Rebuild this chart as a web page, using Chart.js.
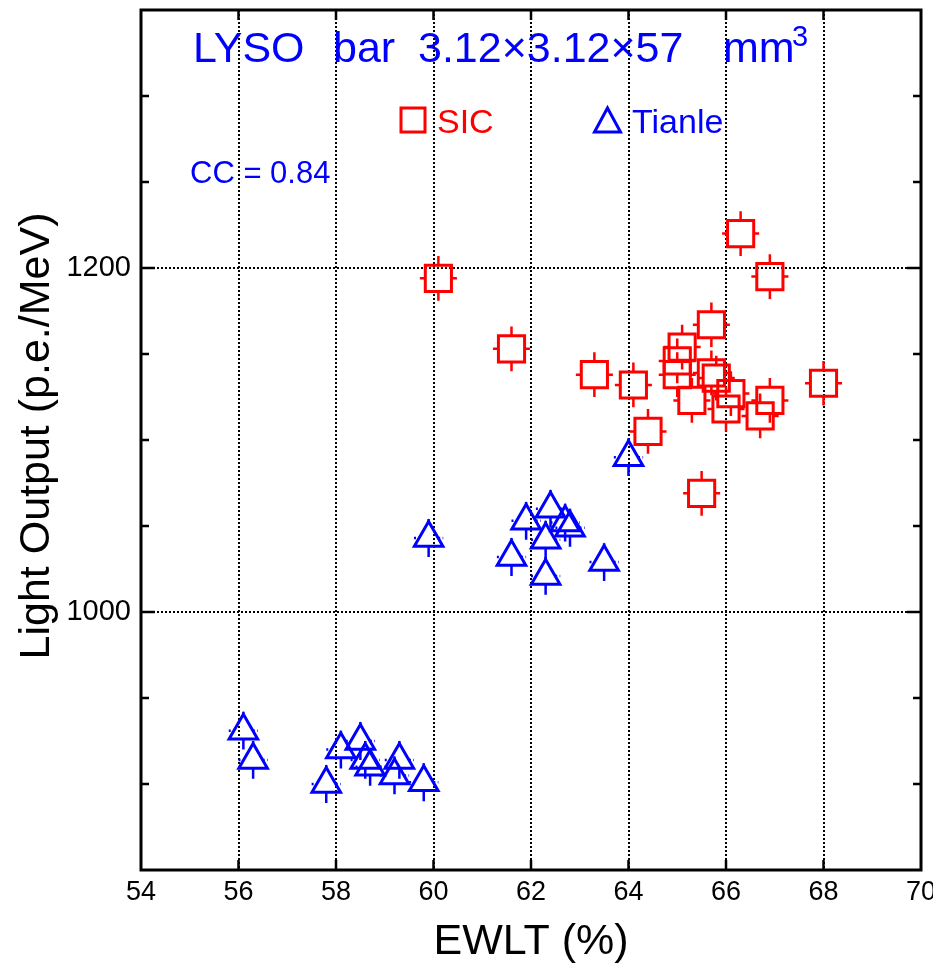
<!DOCTYPE html>
<html>
<head>
<meta charset="utf-8">
<script src="https://cdn.jsdelivr.net/npm/chart.js@4.4.1/dist/chart.umd.min.js"></script>
<style>
  html, body { margin: 0; padding: 0; background: #fff; }
</style>
</head>
<body>
<canvas id="lo-chart" width="933" height="963"></canvas>
<script>
// LYSO bars 3.12x3.12x57 mm3: light output vs EWLT, two vendors

const sicEwlt  = [60.1, 61.6, 63.3, 64.1, 64.4, 65.5, 66.3, 66.9, 65.7, 68.0,
                  65.1, 65.0, 65.0, 65.7, 65.8, 66.1, 65.3, 66.0, 66.9, 66.7];
const sicLight = [1194, 1153, 1138, 1132, 1105, 1069, 1220, 1195, 1167, 1133,
                  1154, 1146, 1138, 1139, 1136, 1127, 1123, 1118, 1123, 1114];

const tianleEwlt  = [59.9, 64.0, 61.9, 62.4, 62.7, 62.8, 62.3, 61.6, 62.3, 63.5,
                     56.1, 56.3, 57.8, 58.1, 58.5, 58.6, 58.7, 59.2, 59.3, 59.8];
const tianleLight = [1043, 1090, 1053, 1060, 1052, 1049, 1042, 1032, 1021, 1029,
                     931, 914, 900, 920, 925, 914, 910, 905, 914, 901];

// error bar half-widths (x in %, y in p.e./MeV)
const sicErr = [0.38, 13];
const tianleErr = [0.30, 11];

const yLabelTicks = [1000, 1200];

const RED = '#ff0000';
const BLUE = '#0000ff';
const FONT = "'Liberation Sans', Arial, Helvetica, sans-serif";

Chart.defaults.font.family = FONT;
Chart.defaults.color = '#000';

const toPoints = (xs, ys) => xs.map((x, i) => ({ x, y: ys[i] }));

// Error bars: only the parts sticking out of each marker are drawn
const errorBars = {
  id: 'errorBars',
  beforeDatasetsDraw(chart) {
    const { ctx, scales: { x: xs, y: ys } } = chart;
    chart.data.datasets.forEach((ds, i) => {
      const meta = chart.getDatasetMeta(i);
      const [ex, ey] = ds.err;
      const r = ds.pointRadius;
      ctx.save();
      ctx.strokeStyle = ds.borderColor;
      ctx.lineWidth = 2.5;
      meta.data.forEach((el, j) => {
        const d = ds.data[j];
        const px = el.x, py = el.y;
        const yTop = ys.getPixelForValue(d.y + ey);
        const yBot = ys.getPixelForValue(d.y - ey);
        const xL = xs.getPixelForValue(d.x - ex);
        const xR = xs.getPixelForValue(d.x + ex);
        let up, down, side;
        if (ds.pointStyle === 'rect') {
          up = down = side = Math.SQRT1_2 * r;
        } else {
          up = r; down = r / 2; side = r * Math.sqrt(3) / 3;
        }
        ctx.setLineDash([]);
        ctx.beginPath();
        ctx.moveTo(px, yTop); ctx.lineTo(px, py - up);
        ctx.moveTo(px, py + down); ctx.lineTo(px, yBot);
        ctx.stroke();
        if (ds.pointStyle !== 'rect') ctx.setLineDash([2, 2.5]);
        ctx.beginPath();
        ctx.moveTo(xL, py); ctx.lineTo(px - side, py);
        ctx.moveTo(px + side, py); ctx.lineTo(xR, py);
        ctx.stroke();
      });
      ctx.restore();
    });
  }
};

// Frame, inward ticks and all free text
const decorations = {
  id: 'decorations',
  afterDraw(chart) {
    const { ctx, chartArea: a, scales: { x: xs, y: ys } } = chart;
    ctx.save();

    // inward tick marks
    ctx.strokeStyle = '#000';
    ctx.lineWidth = 2.5;
    ctx.beginPath();
    ys.ticks.forEach(t => {
      if (t.value <= ys.min || t.value >= ys.max) return;
      const py = ys.getPixelForValue(t.value);
      const len = yLabelTicks.includes(t.value) ? 14 : 8;
      ctx.moveTo(a.left, py); ctx.lineTo(a.left + len, py);
      ctx.moveTo(a.right, py); ctx.lineTo(a.right - len, py);
    });
    xs.ticks.forEach(t => {
      if (t.value <= xs.min || t.value >= xs.max) return;
      const px = xs.getPixelForValue(t.value);
      ctx.moveTo(px, a.bottom); ctx.lineTo(px, a.bottom - 10);
      ctx.moveTo(px, a.top); ctx.lineTo(px, a.top + 10);
    });
    ctx.stroke();

    // frame
    ctx.lineWidth = 3;
    ctx.strokeRect(a.left, a.top, a.right - a.left, a.bottom - a.top);

    // axis titles
    ctx.fillStyle = '#000';
    ctx.font = `43px ${FONT}`;
    ctx.textAlign = 'center';
    ctx.textBaseline = 'alphabetic';
    ctx.fillText('EWLT (%)', (a.left + a.right) / 2, 954);
    ctx.save();
    ctx.translate(49, 436);
    ctx.rotate(-Math.PI / 2);
    ctx.fillText('Light Output (p.e./MeV)', 0, 0);
    ctx.restore();

    // heading
    ctx.textAlign = 'left';
    ctx.fillStyle = BLUE;
    ctx.font = `43px ${FONT}`;
    ctx.fillText('LYSO', 193, 62);
    ctx.fillText('bar', 333, 62);
    ctx.fillText('3.12\u00d73.12\u00d757', 418, 62);
    ctx.fillText('mm', 723, 62);
    ctx.font = `29px ${FONT}`;
    ctx.fillText('3', 792, 46);

    // correlation coefficient
    ctx.font = `31px ${FONT}`;
    ctx.fillText('CC = 0.84', 190, 183);

    // legend
    ctx.lineWidth = 3;
    ctx.strokeStyle = RED;
    ctx.strokeRect(401, 108, 24, 24);
    ctx.fillStyle = RED;
    ctx.font = `34px ${FONT}`;
    ctx.fillText('SIC', 437, 133);

    ctx.strokeStyle = BLUE;
    ctx.beginPath();
    ctx.moveTo(607.5, 108);
    ctx.lineTo(620.5, 132);
    ctx.lineTo(594.5, 132);
    ctx.closePath();
    ctx.stroke();
    ctx.fillStyle = BLUE;
    ctx.fillText('Tianle', 632, 133);

    ctx.restore();
  }
};

const gridColor = (keep) => (c) => (c.tick && keep(c.tick.value)) ? '#000' : 'rgba(0,0,0,0)';

new Chart(document.getElementById('lo-chart'), {
  type: 'scatter',
  data: {
    datasets: [
      {
        label: 'SIC',
        data: toPoints(sicEwlt, sicLight),
        pointStyle: 'rect',
        pointRadius: 18.5,
        pointHoverRadius: 18.5,
        borderColor: RED,
        backgroundColor: 'rgba(0,0,0,0)',
        pointBorderWidth: 3,
        err: sicErr,
      },
      {
        label: 'Tianle',
        data: toPoints(tianleEwlt, tianleLight),
        pointStyle: 'triangle',
        pointRadius: 16.5,
        pointHoverRadius: 16.5,
        borderColor: BLUE,
        backgroundColor: 'rgba(0,0,0,0)',
        pointBorderWidth: 3,
        err: tianleErr,
      },
    ],
  },
  options: {
    responsive: false,
    animation: false,
    devicePixelRatio: 1,
    layout: { autoPadding: false, padding: { top: 10, right: 12, left: 0, bottom: 0 } },
    plugins: {
      legend: { display: false },
      tooltip: { enabled: false },
    },
    scales: {
      x: {
        type: 'linear',
        min: 54,
        max: 70,
        ticks: { stepSize: 2, padding: 6, maxRotation: 0, font: { size: 27 } },
        grid: { color: gridColor(v => v > 54 && v < 70), lineWidth: 2, drawTicks: false },
        border: { display: false, dash: [2, 2] },
        afterFit: s => { s.height = 93; s.paddingLeft = 0; s.paddingRight = 0; },
      },
      y: {
        type: 'linear',
        min: 850,
        max: 1350,
        ticks: {
          stepSize: 50,
          padding: 10,
          font: { size: 29 },
          callback: v => yLabelTicks.includes(v) ? String(v) : '',
        },
        grid: { color: gridColor(v => yLabelTicks.includes(v)), lineWidth: 2, drawTicks: false },
        border: { display: false, dash: [2, 2] },
        afterFit: s => { s.width = 141; s.paddingTop = 0; s.paddingBottom = 0; },
      },
    },
  },
  plugins: [errorBars, decorations],
});
</script>
</body>
</html>
